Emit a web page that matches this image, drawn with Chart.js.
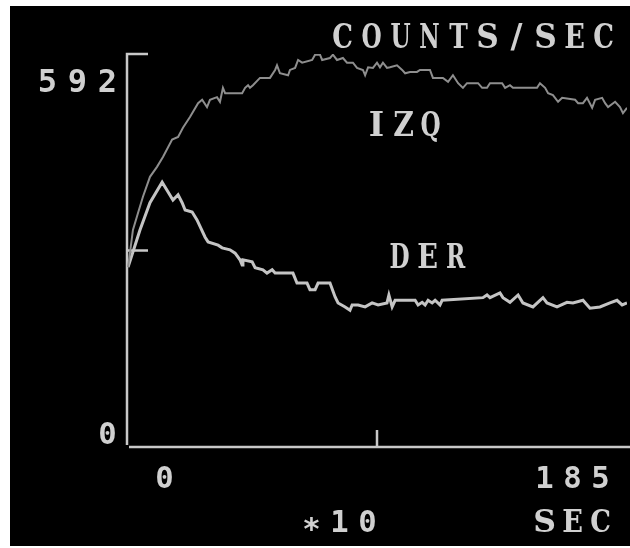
<!DOCTYPE html>
<html>
<head>
<meta charset="utf-8">
<script src="https://cdn.jsdelivr.net/npm/chart.js@4.4.1/dist/chart.umd.min.js"></script>
<style>
  html, body { margin: 0; padding: 0; background: #ffffff; }
  canvas { display: block; }
</style>
</head>
<body>
<canvas id="c" width="630" height="548"></canvas>
<script>
// ---- data (time in units of 10 s, counts/sec) ----
const izqTime = [0.4, 2.2, 4.1, 5.9, 8.5, 11.1, 13.3, 16.7, 18.9, 20.7, 23.3, 26.3, 27.8, 29.6, 30.7, 33.3, 34.4, 35.5, 36.3, 42.6, 43.7, 44.8, 45.5, 46.6, 49.2, 52.9, 54.8, 55.5, 56.6, 59.6, 60.3, 62.2, 63.3, 64.8, 68.5, 69.6, 71.4, 72.2, 75.1, 76.2, 77.7, 79.9, 81.4, 83.6, 85.1, 87.3, 88.1, 89.2, 91.0, 92.5, 93.6, 94.7, 96.2, 97.3, 99.9, 101.8, 102.9, 104.7, 107.3, 108.4, 112.1, 113.2, 116.9, 118.8, 120.6, 122.5, 124.3, 125.8, 129.9, 131.4, 133.2, 134.3, 138.8, 139.9, 141.7, 142.8, 151.7, 152.8, 154.7, 155.8, 157.6, 159.5, 161.0, 165.8, 166.9, 168.7, 170.2, 172.1, 173.2, 175.8, 176.9, 178.0, 180.6, 182.4, 183.5, 185.0];
const izqCounts = [271, 327, 353, 377, 407, 422, 437, 463, 467, 481, 497, 518, 523, 512, 523, 527, 520, 541, 533, 533, 541, 545, 541, 545, 556, 556, 568, 575, 563, 560, 568, 571, 583, 579, 583, 591, 591, 583, 586, 591, 583, 586, 579, 579, 571, 568, 560, 572, 571, 579, 572, 579, 571, 572, 575, 568, 563, 565, 565, 568, 568, 556, 556, 550, 560, 548, 541, 548, 548, 541, 541, 548, 548, 541, 545, 541, 541, 548, 541, 533, 530, 520, 526, 523, 518, 518, 526, 511, 523, 526, 518, 512, 520, 512, 503, 511];

const derTime = [0.4, 4.8, 8.5, 13.0, 15.2, 17.0, 18.9, 20.4, 21.5, 24.1, 25.9, 28.9, 30.0, 33.7, 35.2, 38.1, 40.0, 41.8, 42.6, 42.9, 46.3, 47.4, 50.3, 51.8, 53.7, 54.8, 61.4, 62.9, 66.6, 67.7, 69.6, 70.7, 75.1, 77.0, 78.1, 80.7, 82.5, 83.3, 85.5, 88.1, 90.7, 92.9, 96.2, 96.9, 98.1, 99.2, 106.6, 107.7, 109.2, 110.3, 111.4, 112.9, 114.0, 115.8, 116.6, 131.7, 133.2, 134.3, 138.0, 139.1, 141.7, 144.7, 146.5, 150.2, 153.9, 155.4, 159.1, 162.8, 165.0, 168.7, 171.3, 175.0, 178.7, 181.3, 183.2, 185.0];
const derCounts = [271, 327, 368, 399, 384, 372, 380, 368, 357, 354, 342, 316, 309, 304, 300, 297, 292, 282, 274, 282, 279, 270, 267, 262, 267, 262, 262, 247, 247, 237, 237, 247, 247, 226, 217, 211, 206, 214, 214, 211, 217, 214, 217, 229, 211, 221, 221, 214, 218, 214, 221, 217, 221, 214, 221, 225, 229, 225, 232, 225, 218, 229, 217, 211, 225, 217, 211, 218, 217, 221, 209, 211, 217, 221, 214, 217];

const yTickLabels = ['0', '592'];
const xTickLabels = ['0', '185'];
const yMax = 592;
const xMax = 185;
const seriesNames = ['IZQ', 'DER'];
const yTitle = 'COUNTS/SEC';
const xUnit1 = '*10';
const xUnit2 = 'SEC';

const FAM_DIGIT = '"DejaVu Sans Mono", "Liberation Mono", monospace';
const FAM_LETTER = '"DejaVu Serif", "Liberation Serif", serif';
const INK = '#d0d0d0';

function isDigit(ch) { return /[0-9*]/.test(ch); }

function drawSpaced(ctx, text, left, bottom, pitch, capH, glyphW) {
  const gw = glyphW || 19;
  ctx.save();
  ctx.textAlign = 'center';
  ctx.textBaseline = 'alphabetic';
  ctx.fillStyle = INK;
  for (let i = 0; i < text.length; i++) {
    const ch = text[i];
    const fam = isDigit(ch) ? FAM_DIGIT : FAM_LETTER;
    const weight = 'bold ';
    ctx.font = weight + '100px ' + fam;
    const ref = ctx.measureText(isDigit(ch) ? '8' : 'H');
    const size = 100 * capH / ref.actualBoundingBoxAscent;
    ctx.font = weight + size.toFixed(2) + 'px ' + fam;
    const mw = ctx.measureText(ch);
    const ink = mw.actualBoundingBoxLeft + mw.actualBoundingBoxRight;
    let sx = 1;
    if (ch !== '*' && ch !== '/' && ch !== 'I' && ink > gw) sx = gw / ink;
    let dy = 0;
    if (ch === '*') dy = capH * 0.3;
    ctx.save();
    ctx.translate(left + gw / 2 + i * pitch, bottom + dy);
    ctx.scale(sx, 1);
    ctx.fillText(ch, 0, 0);
    ctx.restore();
  }
  ctx.restore();
}

const backdrop = {
  id: 'backdrop',
  beforeDraw(chart) {
    const ctx = chart.ctx;
    ctx.save();
    ctx.fillStyle = '#ffffff';
    ctx.fillRect(0, 0, chart.width, chart.height);
    ctx.fillStyle = '#000000';
    ctx.fillRect(10, 6, 620, 540);
    ctx.restore();
  }
};

const axesAndText = {
  id: 'axesAndText',
  beforeDatasetsDraw(chart) {
    const ctx = chart.ctx;
    const xs = chart.scales.x, ys = chart.scales.y;
    const x0 = xs.getPixelForValue(0);
    const xMid = xs.getPixelForValue(xMax / 2);
    const y0 = ys.getPixelForValue(0);
    const yTop = ys.getPixelForValue(yMax);
    const yMid = ys.getPixelForValue(yMax / 2);
    ctx.save();
    ctx.strokeStyle = '#c8c8c8';
    ctx.lineWidth = 2.5;
    ctx.lineCap = 'butt';
    ctx.beginPath();
    ctx.moveTo(x0 + 21, yTop);
    ctx.lineTo(x0, yTop);
    ctx.lineTo(x0, y0 - 2);
    ctx.moveTo(x0, yMid);
    ctx.lineTo(x0 + 21, yMid);
    ctx.moveTo(x0 + 2, y0);
    ctx.lineTo(chart.width, y0);
    ctx.moveTo(xMid, y0);
    ctx.lineTo(xMid, y0 - 17);
    ctx.stroke();
    ctx.restore();

    drawSpaced(ctx, yTickLabels[1], 38, yTop + 38, 30, 24);
    drawSpaced(ctx, yTickLabels[0], 98, y0 - 3, 28, 23);
    drawSpaced(ctx, xTickLabels[0], x0 + 28, y0 + 41, 28, 23);
    drawSpaced(ctx, xTickLabels[1], 535, y0 + 41, 28, 23);
    drawSpaced(ctx, xUnit1, 302, y0 + 85, 28, 23);
    drawSpaced(ctx, xUnit2, 535, y0 + 85, 28, 23);
    drawSpaced(ctx, yTitle, 333, 48, 29, 24);
    drawSpaced(ctx, seriesNames[0], 367, 136, 27, 24);
    drawSpaced(ctx, seriesNames[1], 390, 268, 28, 24);
  }
};

new Chart(document.getElementById('c'), {
  type: 'line',
  data: {
    datasets: [
      {
        label: seriesNames[0],
        data: izqTime.map((t, i) => ({ x: t, y: izqCounts[i] })),
        borderColor: '#8e8e8e',
        borderWidth: 2,
        pointRadius: 0,
        tension: 0,
        fill: false
      },
      {
        label: seriesNames[1],
        data: derTime.map((t, i) => ({ x: t, y: derCounts[i] })),
        borderColor: '#c4c4c4',
        borderWidth: 3,
        pointRadius: 0,
        tension: 0,
        fill: false
      }
    ]
  },
  options: {
    responsive: false,
    animation: false,
    devicePixelRatio: 1,
    layout: { padding: { left: 127, top: 54, right: 3, bottom: 101 } },
    scales: {
      x: { type: 'linear', min: 0, max: xMax, display: false },
      y: { type: 'linear', min: 0, max: yMax, display: false }
    },
    plugins: {
      legend: { display: false },
      tooltip: { enabled: false }
    },
    events: []
  },
  plugins: [backdrop, axesAndText]
});
</script>
</body>
</html>
